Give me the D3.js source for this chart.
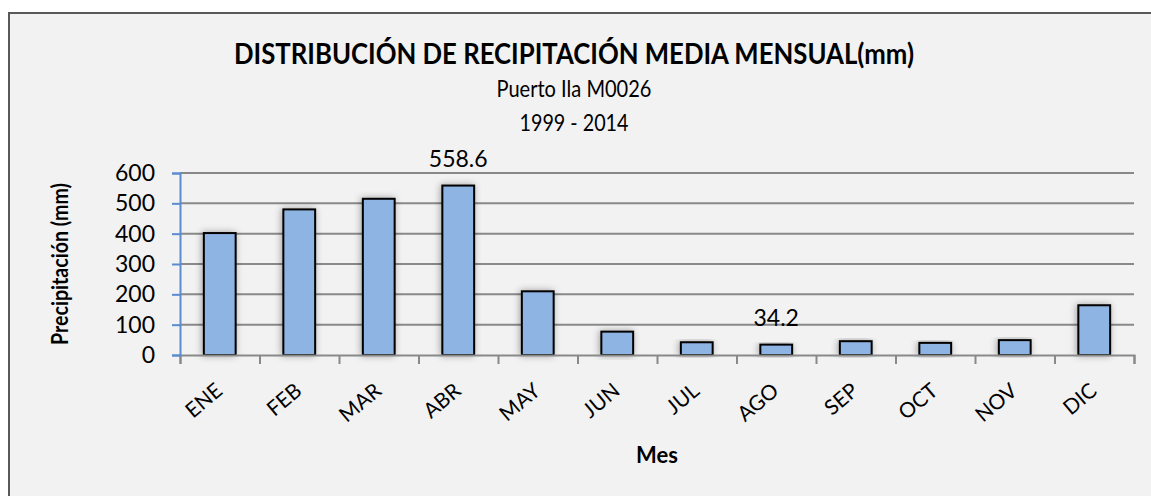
<!DOCTYPE html>
<html>
<head>
<meta charset="utf-8">
<script src="https://cdn.jsdelivr.net/npm/d3@7"></script>
<style>
  body { margin: 0; background: #ffffff; }
  text { font-family: Lato, "Open Sans", sans-serif; fill: #000; }
</style>
</head>
<body>
<script>
//chart data
var months = ["ENE", "FEB", "MAR", "ABR", "MAY", "JUN", "JUL", "AGO", "SEP", "OCT", "NOV", "DIC"];
var precip = [402, 480, 515, 558.6, 210, 77, 42, 34.2, 45.5, 40, 49, 164];
//only these months carry a value label
var labelMonths = ["ABR", "AGO"];
var yTicks = [0, 100, 200, 300, 400, 500, 600];

var titleText = "DISTRIBUCIÓN DE RECIPITACIÓN MEDIA MENSUAL(mm)";
var subTitles = ["Puerto Ila M0026", "1999 - 2014"];

window.onload = function(){

    var w = 1151, h = 496;

    var svg = d3.select("body")
        .append("svg")
        .attr("width", w)
        .attr("height", h)
        .attr("class", "container");

    //soft shadow behind the bars
    var defs = svg.append("defs");
    defs.append("filter")
        .attr("id", "shadow")
        .attr("x", "-50%").attr("y", "-20%")
        .attr("width", "200%").attr("height", "140%")
        .append("feDropShadow")
        .attr("dx", -1)
        .attr("dy", 0)
        .attr("stdDeviation", 3.5)
        .attr("flood-color", "#000")
        .attr("flood-opacity", 0.35);

    //chart frame
    svg.append("rect")
        .attr("x", 9)
        .attr("y", 13)
        .attr("width", 1160)
        .attr("height", 520)
        .style("fill", "#f2f2f2")
        .style("stroke", "#595959")
        .style("stroke-width", 2);

    //plot area edges
    var left = 180, right = 1134, top = 173, bottom = 355;

    var x = d3.scaleBand()
        .domain(months)
        .range([left, right])
        .paddingInner(0.6)
        .paddingOuter(0.3);

    var y = d3.scaleLinear()
        .domain([0, 600])
        .range([bottom, top]);

    //horizontal gridlines
    svg.append("g")
        .attr("class", "grid")
        .selectAll("line")
        .data(yTicks.filter(function(d){ return d > 0; }))
        .enter()
        .append("line")
        .attr("x1", left)
        .attr("x2", right)
        .attr("y1", function(d){ return y(d); })
        .attr("y2", function(d){ return y(d); })
        .style("stroke", "#898989")
        .style("stroke-width", 2);

    //bars
    svg.append("g")
        .selectAll(".bar")
        .data(precip)
        .enter()
        .append("rect")
        .attr("class", "bar")
        .attr("x", function(d, i){ return x(months[i]); })
        .attr("y", function(d){ return y(d); })
        .attr("width", x.bandwidth())
        .attr("height", function(d){ return y(0) - y(d); })
        .attr("filter", "url(#shadow)")
        .style("fill", "#8db4e2")
        .style("stroke", "#000")
        .style("stroke-width", 2);

    //x axis, ticks between categories
    var xEdge = d3.scaleLinear().domain([0, months.length]).range([left, right]);
    var xAxis = svg.append("g")
        .attr("class", "xaxis")
        .attr("transform", "translate(0," + bottom + ")")
        .call(d3.axisBottom(xEdge)
            .tickValues(d3.range(0, months.length + 1))
            .tickSize(9)
            .tickFormat(""));
    xAxis.select(".domain").style("stroke", "#898989").style("stroke-width", 2);
    xAxis.selectAll(".tick line").style("stroke", "#898989").style("stroke-width", 2);

    //month labels, rotated
    svg.append("g")
        .selectAll(".mlabel")
        .data(months)
        .enter()
        .append("text")
        .attr("class", "mlabel")
        .attr("text-anchor", "end")
        .attr("transform", function(d){
            return "translate(" + (x(d) + x.bandwidth() / 2 + 4) + ",393) rotate(-40)";
        })
        .style("font-size", "21px")
        .text(function(d){ return d; });

    //y axis
    var yAxis = svg.append("g")
        .attr("class", "yaxis")
        .attr("transform", "translate(" + left + ",0)")
        .call(d3.axisLeft(y).tickValues(yTicks).tickSize(8).tickPadding(17));
    yAxis.select(".domain").style("stroke", "#5b8bd0").style("stroke-width", 2);
    yAxis.selectAll(".tick line").style("stroke", "#5b8bd0").style("stroke-width", 2);
    yAxis.selectAll(".tick text")
        .style("font-size", "23px")
        .style("font-family", "Lato, sans-serif")
        .attr("fill", "#000");

    //value labels
    svg.append("g")
        .selectAll(".vlabel")
        .data(months.filter(function(m){ return labelMonths.indexOf(m) >= 0; }))
        .enter()
        .append("text")
        .attr("class", "vlabel")
        .attr("text-anchor", "middle")
        .attr("x", function(m){ return x(m) + x.bandwidth() / 2; })
        .attr("y", function(m){ return y(precip[months.indexOf(m)]) - 19; })
        .style("font-size", "23px")
        .text(function(m){ return precip[months.indexOf(m)]; });

    //titles
    svg.append("text")
        .attr("x", 574)
        .attr("y", 64)
        .attr("text-anchor", "middle")
        .attr("textLength", 680)
        .attr("lengthAdjust", "spacingAndGlyphs")
        .style("font-size", "28px")
        .style("font-weight", "bold")
        .text(titleText);

    svg.selectAll(".sub")
        .data(subTitles)
        .enter()
        .append("text")
        .attr("class", "sub")
        .attr("x", 574)
        .attr("y", function(d, i){ return 97 + i * 34; })
        .attr("text-anchor", "middle")
        .attr("textLength", function(d, i){ return i == 0 ? 155 : 109; })
        .attr("lengthAdjust", "spacingAndGlyphs")
        .style("font-size", "24px")
        .text(function(d){ return d; });

    //axis titles
    svg.append("text")
        .attr("transform", "translate(68," + ((top + bottom) / 2) + ") rotate(-90)")
        .attr("text-anchor", "middle")
        .attr("textLength", 162)
        .attr("lengthAdjust", "spacingAndGlyphs")
        .style("font-size", "23px")
        .style("font-weight", "bold")
        .text("Precipitación (mm)");

    svg.append("text")
        .attr("x", (left + right) / 2)
        .attr("y", 463)
        .attr("text-anchor", "middle")
        .style("font-size", "22px")
        .style("font-weight", "bold")
        .text("Mes");
};
</script>
</body>
</html>
